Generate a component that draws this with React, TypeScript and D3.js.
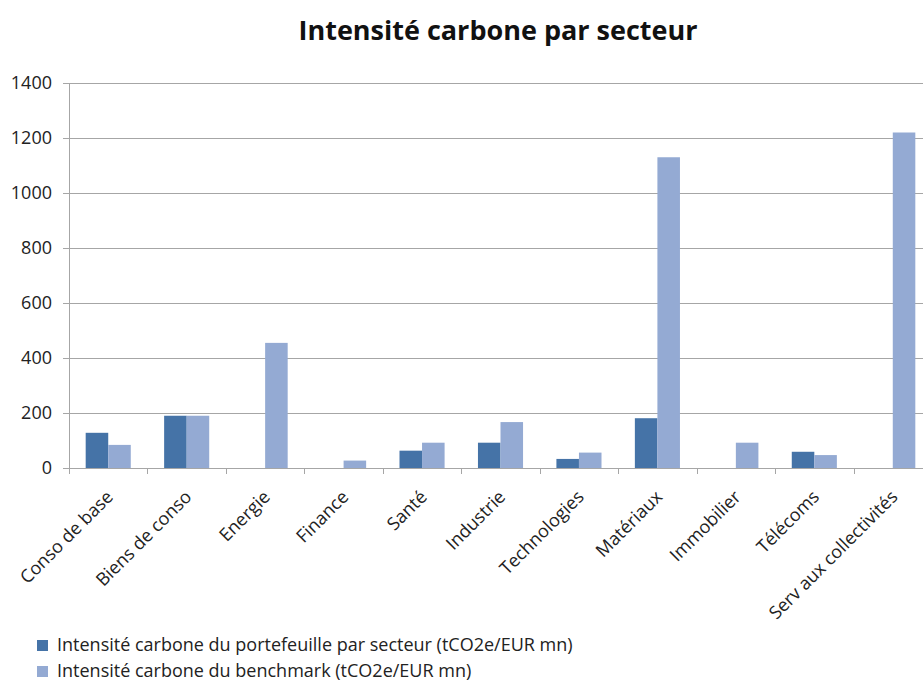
import React, { useEffect, useRef } from 'react';
import * as d3 from 'd3';

// sectors and values
const sectors = [
  'Conso de base', 'Biens de conso', 'Energie', 'Finance', 'Santé', 'Industrie',
  'Technologies', 'Matériaux', 'Immobilier', 'Télécoms', 'Serv aux collectivités',
];
const portfolio = [128, 190, 0, 0, 63, 92, 33, 181, 0, 59, 0];
const benchmark = [84, 190, 455, 27, 92, 167, 56, 1130, 92, 47, 1220];
const yTicks = [0, 200, 400, 600, 800, 1000, 1200, 1400];
const seriesNames = [
  'Intensité carbone du portefeuille par secteur (tCO2e/EUR mn)',
  'Intensité carbone du benchmark (tCO2e/EUR mn)',
];
const colors = ['#4573a7', '#94aad3'];

const W = 923;
const H = 684;
const font = '"Open Sans", Carlito, sans-serif';

const App = () => {
  const ref = useRef<SVGSVGElement | null>(null);

  useEffect(() => {
    if (!ref.current) return;
    const svg = d3.select(ref.current);
    svg.selectAll('*').remove();

    // plot area runs past the right edge of the window, as in the original
    const x0 = 69, x1 = 932, yTop = 83, yBot = 468;

    const x = d3.scaleBand().domain(sectors).range([x0, x1]).paddingInner(0).paddingOuter(0);
    const xs = d3.scaleBand().domain(['p', 'b']).range([0, x.bandwidth()]).paddingInner(0).paddingOuter(0.74);
    const y = d3.scaleLinear().domain([0, 1400]).range([yBot, yTop]);

    // title
    svg.append('text')
      .attr('x', 498).attr('y', 40)
      .attr('text-anchor', 'middle')
      .attr('font-family', font)
      .attr('font-weight', 700)
      .attr('font-size', 27)
      .attr('fill', '#111')
      .text('Intensité carbone par secteur');

    // grid
    svg.append('g').selectAll('line')
      .data(yTicks)
      .join('line')
      .attr('x1', x0 - 6).attr('x2', W)
      .attr('y1', d => Math.round(y(d)) + 0.5).attr('y2', d => Math.round(y(d)) + 0.5)
      .attr('stroke', '#a6a6a6');

    svg.append('g').selectAll('text')
      .data(yTicks)
      .join('text')
      .attr('x', 52).attr('y', d => y(d) + 6)
      .attr('text-anchor', 'end')
      .attr('font-family', font)
      .attr('font-size', 18)
      .attr('fill', '#222')
      .text(d => d);

    // y axis line
    svg.append('line')
      .attr('x1', x0 + 0.5).attr('x2', x0 + 0.5)
      .attr('y1', yTop).attr('y2', yBot + 6)
      .attr('stroke', '#a6a6a6');

    // category ticks
    svg.append('g').selectAll('line')
      .data(sectors.slice(1))
      .join('line')
      .attr('x1', d => Math.round(x(d)!) + 0.5).attr('x2', d => Math.round(x(d)!) + 0.5)
      .attr('y1', yBot).attr('y2', yBot + 6)
      .attr('stroke', '#a6a6a6');

    // bars
    const groups = svg.append('g').selectAll('g')
      .data(sectors)
      .join('g')
      .attr('transform', d => `translate(${x(d)},0)`);

    groups.selectAll('rect')
      .data((d, i) => [
        { key: 'p', v: portfolio[i], c: colors[0] },
        { key: 'b', v: benchmark[i], c: colors[1] },
      ].filter(e => e.v > 0))
      .join('rect')
      .attr('x', e => xs(e.key)!)
      .attr('width', xs.bandwidth())
      .attr('y', e => y(e.v))
      .attr('height', e => yBot - y(e.v))
      .attr('fill', e => e.c);

    // category labels
    svg.append('g').selectAll('text')
      .data(sectors)
      .join('text')
      .attr('transform', d => `translate(${x(d)! + x.bandwidth() / 2 + 6},${yBot + 30}) rotate(-45)`)
      .attr('text-anchor', 'end')
      .attr('font-family', font)
      .attr('font-size', 18)
      .attr('fill', '#222')
      .text(d => d);

    // legend
    const leg = svg.append('g').selectAll('g')
      .data(seriesNames)
      .join('g')
      .attr('transform', (d, i) => `translate(37,${640 + i * 26})`);
    leg.append('rect')
      .attr('width', 11).attr('height', 11)
      .attr('fill', (d, i) => colors[i]);
    leg.append('text')
      .attr('x', 20).attr('y', 11)
      .attr('font-family', font)
      .attr('font-size', 18)
      .attr('fill', '#222')
      .text(d => d);
  }, []);

  return (
    <svg
      ref={ref}
      width={W}
      height={H}
      style={{ position: 'absolute', top: 0, left: 0, background: '#fff' }}
    />
  );
};

export default App;
